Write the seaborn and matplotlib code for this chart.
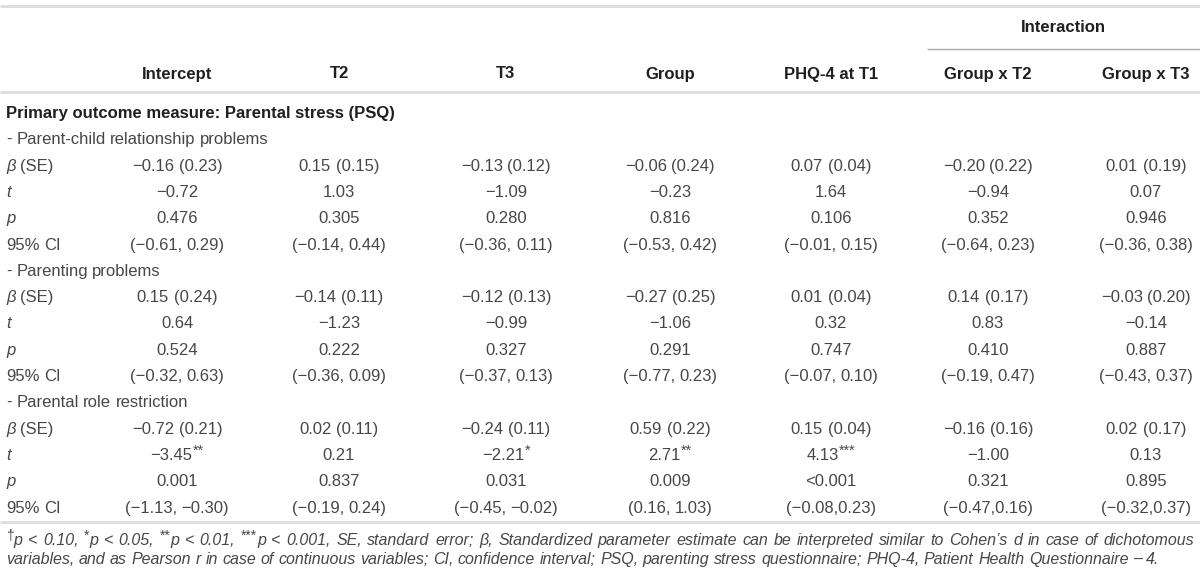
import matplotlib
matplotlib.use("Agg")
import matplotlib.pyplot as plt
import seaborn as sns

# Table values
columns = ["Intercept", "T2", "T3", "Group", "PHQ-4 at T1", "Group x T2", "Group x T3"]
subscales = ["- Parent-child relationship problems", "- Parenting problems", "- Parental role restriction"]

beta = [[-0.16, 0.15, -0.13, -0.06, 0.07, -0.20, 0.01],
        [0.15, -0.14, -0.12, -0.27, 0.01, 0.14, -0.03],
        [-0.72, 0.02, -0.24, 0.59, 0.15, -0.16, 0.02]]
se = [[0.23, 0.15, 0.12, 0.24, 0.04, 0.22, 0.19],
      [0.24, 0.11, 0.13, 0.25, 0.04, 0.17, 0.20],
      [0.21, 0.11, 0.11, 0.22, 0.04, 0.16, 0.17]]
t_val = [[-0.72, 1.03, -1.09, -0.23, 1.64, -0.94, 0.07],
         [0.64, -1.23, -0.99, -1.06, 0.32, 0.83, -0.14],
         [-3.45, 0.21, -2.21, 2.71, 4.13, -1.00, 0.13]]
p_val = [[0.476, 0.305, 0.280, 0.816, 0.106, 0.352, 0.946],
         [0.524, 0.222, 0.327, 0.291, 0.747, 0.410, 0.887],
         [0.001, 0.837, 0.031, 0.009, 0.0005, 0.321, 0.895]]
t_stars = [["", "", "", "", "", "", ""],
           ["", "", "", "", "", "", ""],
           ["**", "", "*", "**", "***", "", ""]]
ci_low = [[-0.61, -0.14, -0.36, -0.53, -0.01, -0.64, -0.36],
          [-0.32, -0.36, -0.37, -0.77, -0.07, -0.19, -0.43],
          [-1.13, -0.19, -0.45, 0.16, -0.08, -0.47, -0.32]]
ci_high = [[0.29, 0.44, 0.11, 0.42, 0.15, 0.23, 0.38],
           [0.63, 0.09, 0.13, 0.23, 0.10, 0.47, 0.37],
           [-0.30, 0.24, -0.02, 1.03, 0.23, 0.16, 0.37]]
ci_sep = [[", "] * 7, [", "] * 7, [", "] * 4 + [","] * 3]

sns.set_theme(style="white")
plt.rcParams['font.family'] = ['Liberation Sans', 'DejaVu Sans']

BODY = "#474747"
HEAD = "#1f1f1f"
RULE = "#dddddd"
FS = 12

fig = plt.figure(figsize=(12, 5.87), dpi=100)
ax = fig.add_axes([0, 0, 1, 1])
ax.set_xlim(0, 1200)
ax.set_ylim(587, 0)
ax.axis("off")
renderer = fig.canvas.get_renderer()

col_x = [177, 339, 506, 670, 831, 988, 1146]
left_x = 6
row0 = 113
pitch = 26.3


def fmt(v, nd=2):
    s = f"{v:.{nd}f}"
    return s.replace("-", "\u2212")


def width_of(t):
    return t.get_window_extent(renderer).width


def runs_line(runs, x0, y, size=FS, target=None, center=None):
    # runs: list of (text, italic, superscript); y is the row centre
    yb = y + size * 0.42   # shared baseline for the row
    items = []
    probe1 = ax.text(0, yb, "n n", fontsize=size)
    probe2 = ax.text(0, yb, "nn", fontsize=size)
    space_w = width_of(probe1) - width_of(probe2)
    probe1.remove()
    probe2.remove()
    for text, italic, sup in runs:
        style = "italic" if italic else "normal"
        if sup:
            t = ax.text(0, yb - size * 0.4, text, fontsize=size * 0.85, style=style,
                        color=BODY, va="baseline")
            items.append(("w", t))
            continue
        parts = text.split(" ")
        for i, part in enumerate(parts):
            if i > 0:
                items.append(("s", None))
            if part:
                t = ax.text(0, yb, part, fontsize=size, style=style,
                            color=BODY, va="baseline")
                items.append(("w", t))
    n_sp = sum(1 for k, _ in items if k == "s")
    natural = sum(width_of(t) for k, t in items if k == "w") + n_sp * space_w
    extra = 0
    if target is not None and n_sp:
        extra = (target - natural) / n_sp
    if center is not None:
        x0 = center - natural / 2
    x = x0
    for kind, t in items:
        if kind == "s":
            x += space_w + extra
        else:
            t.set_x(x)
            x += width_of(t)


def cell(x, y, text, stars=""):
    runs = [(text, False, False)]
    if stars:
        runs.append((stars, False, True))
    runs_line(runs, 0, y, center=x)


# rules
ax.plot([0, 1200], [6, 6], color=RULE, lw=2, solid_capstyle="butt")
ax.plot([927, 1200], [49, 49], color="#a8a8a8", lw=1, solid_capstyle="butt")
ax.plot([0, 1200], [92, 92], color=RULE, lw=2, solid_capstyle="butt")
ax.plot([0, 1200], [522, 522], color=RULE, lw=2, solid_capstyle="butt")

# headers
ax.text(1063, 27, "Interaction", fontsize=FS, fontweight="bold", color=HEAD,
        ha="center", va="center")
for x, name in zip(col_x, columns):
    ax.text(x, 74, name, fontsize=FS, fontweight="bold", color=HEAD,
            ha="center", va="center")

ax.text(left_x, row0 + FS * 0.42, "Primary outcome measure: Parental stress (PSQ)",
        fontsize=FS, fontweight="bold", color=HEAD, va="baseline")

row = 1
for b, name in enumerate(subscales):
    runs_line([(name, False, False)], left_x, row0 + pitch * row)
    row += 1
    # beta (SE)
    y = row0 + pitch * row
    runs_line([("\u03b2", True, False), (" (SE)", False, False)], left_x, y)
    for c, x in enumerate(col_x):
        cell(x, y, f"{fmt(beta[b][c])} ({fmt(se[b][c])})")
    row += 1
    # t
    y = row0 + pitch * row
    runs_line([("t", True, False)], left_x, y)
    for c, x in enumerate(col_x):
        cell(x, y, fmt(t_val[b][c]), t_stars[b][c])
    row += 1
    # p
    y = row0 + pitch * row
    runs_line([("p", True, False)], left_x, y)
    for c, x in enumerate(col_x):
        pv = p_val[b][c]
        cell(x, y, "<0.001" if pv < 0.001 else fmt(pv, 3))
    row += 1
    # CI
    y = row0 + pitch * row
    runs_line([("95% CI", False, False)], left_x, y)
    for c, x in enumerate(col_x):
        cell(x, y, f"({fmt(ci_low[b][c])}{ci_sep[b][c]}{fmt(ci_high[b][c])})")
    row += 1

# footnote
FN = 11.5
line1 = [("\u2020", False, True), ("p < 0.10, ", True, False),
         ("*", False, True), ("p < 0.05, ", True, False),
         ("**", False, True), ("p < 0.01, ", True, False),
         ("***", False, True),
         ("p < 0.001, SE, standard error; \u03b2, Standardized parameter estimate can be "
          "interpreted similar to Cohen\u2019s d in case of dichotomous", True, False)]
line2 = [("variables, and as Pearson r in case of continuous variables; CI, confidence "
          "interval; PSQ, parenting stress questionnaire; PHQ-4, Patient Health "
          "Questionnaire \u2013 4.", True, False)]
runs_line(line1, 6, 540, size=FN, target=1188)
runs_line(line2, 6, 559, size=FN)

fig.savefig("out.png", dpi=100)
